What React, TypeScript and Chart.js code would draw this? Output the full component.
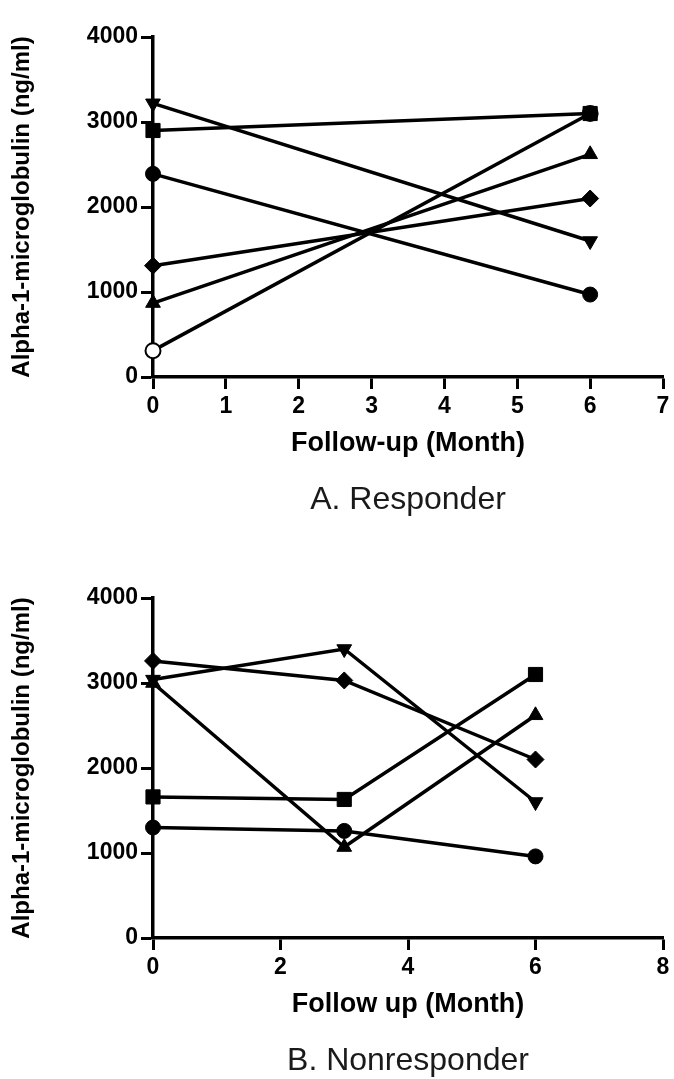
import React, { useEffect, useRef } from "react";
import { Chart, registerables } from "chart.js";

Chart.register(...registerables);

// ---------- Data ----------
const yTickValues = [0, 1000, 2000, 3000, 4000];

// A. Responder
const responderMonths = [0, 6];
const responderXTicks = [0, 1, 2, 3, 4, 5, 6, 7];
const respInvTriangle = [3220, 1600];
const respSquare = [2900, 3100];
const respCircle = [2390, 970];
const respDiamond = [1310, 2100];
const respTriangle = [870, 2620];
const respOpenCircle = [310, 3100];

// B. Nonresponder
const nonresponderMonths = [0, 3, 6];
const nonresponderXTicks = [0, 2, 4, 6, 8];
const nonInvTriangle = [3040, 3400, 1600];
const nonDiamond = [3260, 3030, 2100];
const nonTriangle = [3000, 1070, 2620];
const nonSquare = [1660, 1630, 3100];
const nonCircle = [1300, 1260, 960];

const FONT = "'Liberation Sans', Arial, Helvetica, sans-serif";
const INK = "#000";

type Marker = { style: string; radius: number; rotation?: number; fill?: string | string[] };

const MARK = {
  invTriangle: { style: "triangle", radius: 8.5, rotation: 180 } as Marker,
  triangle: { style: "triangle", radius: 8.5 } as Marker,
  square: { style: "rect", radius: 10 } as Marker,
  circle: { style: "circle", radius: 7.5 } as Marker,
  diamond: { style: "rectRot", radius: 8.5 } as Marker,
  openCircle: { style: "circle", radius: 7.5, fill: ["#fff", INK] } as Marker,
};

function series(months: number[], values: number[], m: Marker) {
  return {
    data: months.map((x, i) => ({ x, y: values[i] })),
    borderColor: INK,
    borderWidth: 3.5,
    pointStyle: m.style,
    pointRadius: m.radius,
    pointRotation: m.rotation ?? 0,
    pointBackgroundColor: m.fill ?? INK,
    pointBorderColor: INK,
    pointBorderWidth: m.fill ? 2 : 1,
    fill: false,
    tension: 0,
    clip: false as const,
  };
}

type PanelProps = {
  datasets: any[];
  xTicks: number[];
  xMax: number;
  xTitle: string;
  caption: string;
  height: number;
  padTop: number;
  padBottom: number;
  xHeight: number;
};

function Panel(p: PanelProps) {
  const ref = useRef<HTMLCanvasElement | null>(null);
  useEffect(() => {
    if (!ref.current) return;
    const chart = new Chart(ref.current, {
      type: "line",
      data: { datasets: p.datasets },
      options: {
        animation: false,
        responsive: false,
        devicePixelRatio: 1,
        layout: { padding: { left: 8, right: 11, top: p.padTop, bottom: p.padBottom } },
        plugins: {
          legend: { display: false },
          tooltip: { enabled: false },
          title: {
            display: true,
            position: "bottom",
            fullSize: false,
            text: p.caption,
            color: "#1a1a1a",
            font: { family: FONT, size: 32, weight: "normal", lineHeight: 1.1 },
            padding: 0,
          },
        },
        scales: {
          x: {
            type: "linear",
            min: 0,
            max: p.xMax,
            afterBuildTicks: (s: any) => {
              s.ticks = p.xTicks.map((v) => ({ value: v }));
            },
            afterFit: (s: any) => {
              s.height = p.xHeight;
            },
            grid: {
              drawOnChartArea: false,
              drawTicks: true,
              tickLength: 12,
              tickWidth: 3,
              tickColor: INK,
            },
            border: { display: true, color: INK, width: 3.5 },
            ticks: {
              color: INK,
              padding: 4,
              maxRotation: 0,
              callback: (v: any) => String(v),
              font: { family: FONT, size: 23, weight: "bold" },
            },
            title: {
              display: true,
              text: p.xTitle,
              color: INK,
              font: { family: FONT, size: 27, weight: "bold", lineHeight: 1.2 },
              padding: { top: 0, bottom: 23 },
            },
          },
          y: {
            type: "linear",
            min: 0,
            max: 4000,
            afterBuildTicks: (s: any) => {
              s.ticks = yTickValues.map((v) => ({ value: v }));
            },
            afterFit: (s: any) => {
              s.width = 145;
            },
            grid: {
              drawOnChartArea: false,
              drawTicks: true,
              tickLength: 12,
              tickWidth: 3,
              tickColor: INK,
            },
            border: { display: true, color: INK, width: 3.5 },
            ticks: {
              color: INK,
              padding: 3,
              callback: (v: any) => String(v),
              font: { family: FONT, size: 23, weight: "bold" },
            },
            title: {
              display: true,
              text: "Alpha-1-microglobulin (ng/ml)",
              color: INK,
              font: { family: FONT, size: 24, weight: "bold", lineHeight: 1.2 },
              padding: 0,
            },
          },
        },
      } as any,
    });
    return () => chart.destroy();
  }, []);
  return (
    <canvas
      ref={ref}
      width={674}
      height={p.height}
      style={{ display: "block", width: 674, height: p.height }}
    />
  );
}

export default function App() {
  const respDatasets = [
    series(responderMonths, respInvTriangle, MARK.invTriangle),
    series(responderMonths, respSquare, MARK.square),
    series(responderMonths, respCircle, MARK.circle),
    series(responderMonths, respDiamond, MARK.diamond),
    series(responderMonths, respTriangle, MARK.triangle),
    series(responderMonths, respOpenCircle, MARK.openCircle),
  ];
  const nonDatasets = [
    series(nonresponderMonths, nonInvTriangle, MARK.invTriangle),
    series(nonresponderMonths, nonDiamond, MARK.diamond),
    series(nonresponderMonths, nonTriangle, MARK.triangle),
    series(nonresponderMonths, nonSquare, MARK.square),
    series(nonresponderMonths, nonCircle, MARK.circle),
  ];
  return (
    <div
      style={{
        position: "absolute",
        left: 0,
        top: 0,
        width: 674,
        height: 1079,
        background: "#fff",
        overflow: "hidden",
      }}
    >
      <Panel
        datasets={respDatasets}
        xTicks={responderXTicks}
        xMax={7}
        xTitle="Follow-up (Month)"
        caption="A. Responder"
        height={540}
        padTop={37}
        padBottom={22.4}
        xHeight={105.4}
      />
      <Panel
        datasets={nonDatasets}
        xTicks={nonresponderXTicks}
        xMax={8}
        xTitle="Follow up (Month)"
        caption="B. Nonresponder"
        height={539}
        padTop={58}
        padBottom={0}
        xHeight={105.8}
      />
    </div>
  );
}
